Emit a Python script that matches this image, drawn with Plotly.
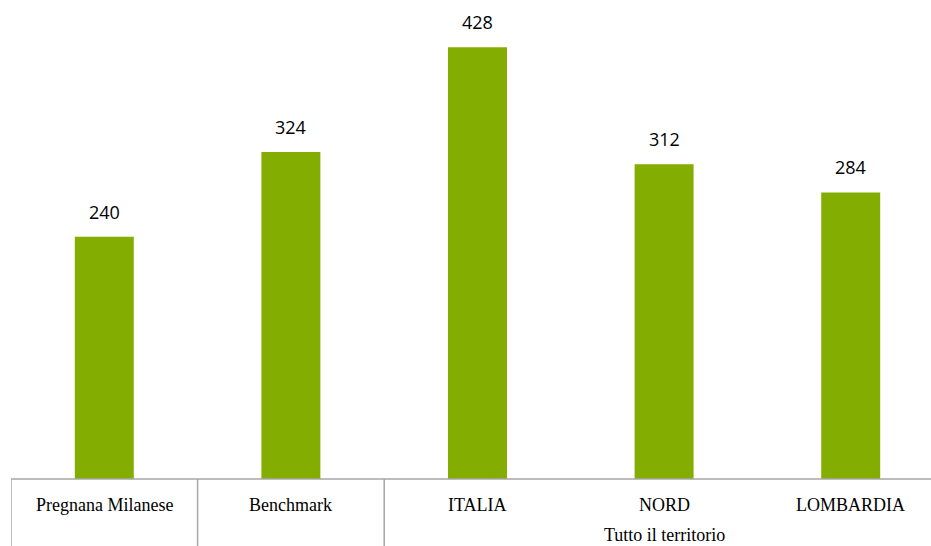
import plotly.graph_objects as go

# Data
categories = ["Pregnana Milanese", "Benchmark", "ITALIA", "NORD", "LOMBARDIA"]
values = [240, 324, 428, 312, 284]
group_label = "Tutto il territorio"
group_members = ["ITALIA", "NORD", "LOMBARDIA"]

W, H = 931, 546
BAR_COLOR = "#83AD00"
LINE_COLOR = "#A6A6A6"
pos = list(range(len(categories)))

fig = go.Figure()
fig.add_trace(go.Bar(
    x=pos, y=values, width=0.316,
    marker=dict(color=BAR_COLOR, line=dict(width=0)),
    hoverinfo="skip",
))

annotations = []
# value labels above the bars
for x, v in zip(pos, values):
    annotations.append(dict(
        x=x, y=v, xref="x", yref="y", text=str(v), showarrow=False,
        yanchor="bottom", yshift=11,
        font=dict(family="Open Sans, Liberation Sans, sans-serif", size=18, color="#000000"),
    ))
# category labels inside the table row
serif = dict(family="Liberation Serif, DejaVu Serif, serif", size=18, color="#000000")
for x, c in zip(pos, categories):
    annotations.append(dict(
        x=x, y=0, xref="x", yref="paper", text=c, showarrow=False,
        yanchor="middle", yshift=-26, font=serif,
    ))
# group label centred under its members
gidx = [categories.index(g) for g in group_members]
annotations.append(dict(
    x=(min(gidx) - 0.5 + max(gidx) + 0.5) / 2, y=0, xref="x", yref="paper",
    text=group_label, showarrow=False, yanchor="middle", yshift=-56, font=serif,
))

plot_bottom = 67
plot_h = H - plot_bottom
shapes = [
    # axis / table top line
    dict(type="line", xref="paper", yref="paper", x0=0, x1=1, y0=0, y1=0,
         line=dict(color=LINE_COLOR, width=1.5)),
]
# vertical separators of the category table
for xs in [-0.5, 0.5, min(gidx) - 0.5]:
    shapes.append(dict(type="line", xref="x", yref="paper", x0=xs, x1=xs,
                       y0=0, y1=-plot_bottom / plot_h,
                       line=dict(color=LINE_COLOR, width=1.5)))

left = 11
cat_px = 186.6
x_max = -0.5 + (W - left) / cat_px

fig.update_layout(
    width=W, height=H,
    margin=dict(l=left, r=0, t=0, b=plot_bottom),
    paper_bgcolor="white", plot_bgcolor="white",
    showlegend=False,
    xaxis=dict(range=[-0.5, x_max], showticklabels=False, showgrid=False,
               zeroline=False, showline=False, ticks=""),
    yaxis=dict(range=[0, plot_h / 1.009], visible=False, showgrid=False, zeroline=False),
    annotations=annotations,
    shapes=shapes,
)

fig.write_html("out.html")
